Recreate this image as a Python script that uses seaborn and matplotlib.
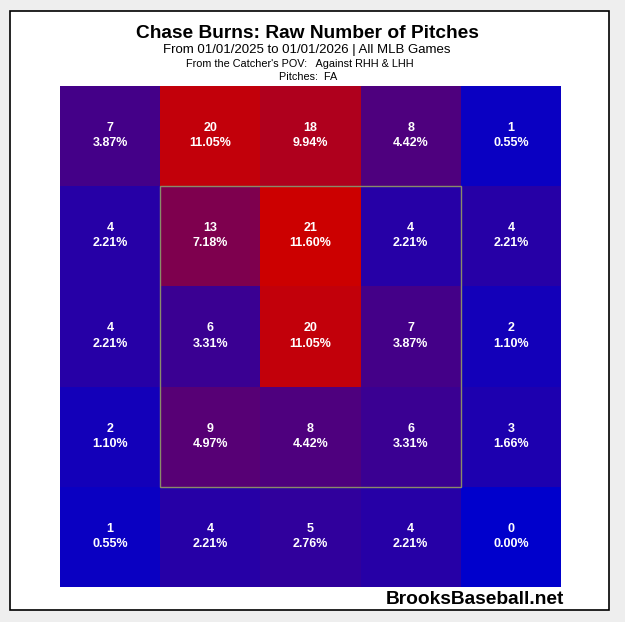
import numpy as np
import pandas as pd
import seaborn as sns
import matplotlib
matplotlib.use("Agg")
import matplotlib.pyplot as plt
from matplotlib.colors import LinearSegmentedColormap
from matplotlib.patches import Rectangle

# ---- data ----
counts = [
    [7, 20, 18, 8, 1],
    [4, 13, 21, 4, 4],
    [4, 6, 20, 7, 2],
    [2, 9, 8, 6, 3],
    [1, 4, 5, 4, 0],
]
percents = [
    ["3.87%", "11.05%", "9.94%", "4.42%", "0.55%"],
    ["2.21%", "7.18%", "11.60%", "2.21%", "2.21%"],
    ["2.21%", "3.31%", "11.05%", "3.87%", "1.10%"],
    ["1.10%", "4.97%", "4.42%", "3.31%", "1.66%"],
    ["0.55%", "2.21%", "2.76%", "2.21%", "0.00%"],
]
title = "Chase Burns: Raw Number of Pitches"
subtitle = "From 01/01/2025 to 01/01/2026 | All MLB Games"
line3 = "From the Catcher's POV:   Against RHH & LHH"
line4 = "Pitches:  FA"
credit = "BrooksBaseball.net"

sns.set_theme(style="white")
plt.rcParams['font.family'] = ['Liberation Sans', 'DejaVu Sans']

W, H = 625, 622
fig = plt.figure(figsize=(W / 100, H / 100), dpi=100)
fig.patch.set_facecolor('#eeeeee')

# inner white panel with black border (background axes)
bg = fig.add_axes([0, 0, 1, 1], zorder=0)
bg.set_xlim(0, W)
bg.set_ylim(H, 0)
bg.axis('off')
bg.add_patch(Rectangle((10, 11), 599, 599, facecolor='white',
                       edgecolor='black', linewidth=1.2))

ax = fig.add_axes([60 / W, 1 - 587 / H, 501 / W, 501 / H], zorder=2)
cmap = LinearSegmentedColormap.from_list("bb", ["#0000CC", "#CC0000"])
df = pd.DataFrame(counts)
sns.heatmap(df, ax=ax, cmap=cmap, vmin=0, vmax=21, cbar=False,
            xticklabels=False, yticklabels=False, linewidths=0)
ax.set_xlabel("")
ax.set_ylabel("")

for i, row in enumerate(counts):
    for j, v in enumerate(row):
        ax.text(j + 0.5, i + 0.42, str(v), ha='center', va='center',
                color='white', fontsize=9, fontweight='bold')
        ax.text(j + 0.5, i + 0.57, percents[i][j], ha='center', va='center',
                color='white', fontsize=9, fontweight='bold')

# strike zone
ax.add_patch(Rectangle((1, 1), 3, 3, fill=False, edgecolor='#8a8a6a',
                       linewidth=1.0, zorder=5))

fig.text(307 / W, 1 - 33 / H, title, ha='center', va='center',
         fontsize=13.8, fontweight='bold', color='black', zorder=3)
fig.text(307 / W, 1 - 50 / H, subtitle, ha='center', va='center',
         fontsize=9.5, color='black', zorder=3)
fig.text(300 / W, 1 - 64 / H, line3, ha='center', va='center',
         fontsize=7.8, color='black', zorder=3)
fig.text(308 / W, 1 - 77 / H, line4, ha='center', va='center',
         fontsize=7.8, color='black', zorder=3)
fig.text(564 / W, 1 - 604 / H, credit, ha='right', va='baseline',
         fontsize=13.8, fontweight='bold', color='black', zorder=3)

fig.savefig("out.png", dpi=100, facecolor=fig.get_facecolor())
